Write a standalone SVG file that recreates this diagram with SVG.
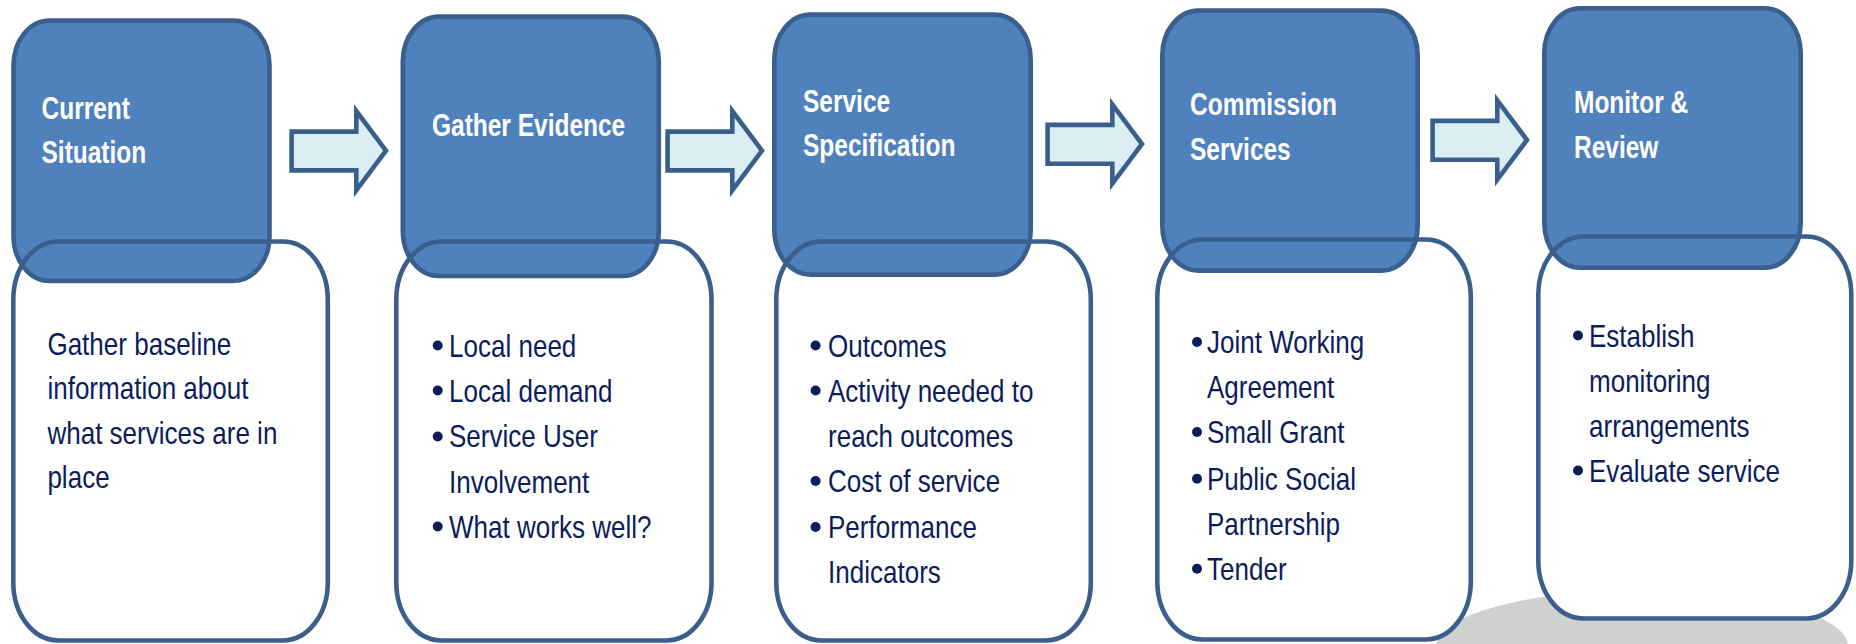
<svg xmlns="http://www.w3.org/2000/svg" xmlns:xlink="http://www.w3.org/1999/xlink" width="1856" height="644" viewBox="0 0 1856 644">
<style>
.card{fill:#ffffff;stroke:none}
.cardline{fill:none;stroke:#3B5F8D;stroke-width:4.6}
.head{fill:#4F81BD;stroke:#3B5F8D;stroke-width:4.6}
.title{font-family:"Liberation Sans",Arial,sans-serif;font-weight:bold;font-size:31px;fill:#ffffff}
.body{font-family:"Liberation Sans",Arial,sans-serif;font-size:31px;fill:#0C1D5C}
.dot{fill:#0C1D5C}
.arrow{fill:#DBEEF4;stroke:#3B5F8D;stroke-width:4.6;stroke-linejoin:miter}
</style>
<defs>
<path id="arr" d="M291.6,131.6 L356.3,131.6 L356.3,111 L386,150.7 L356.3,190.3 L356.3,170.4 L291.6,170.4 Z"/>
</defs>
<ellipse id="backdrop" cx="1642" cy="646" rx="206" ry="56" fill="#CFD1CF"/>

<g id="node1">
<rect class="card" x="13.3" y="241.5" width="314.5" height="399" rx="45" ry="58"/>
<rect class="head" x="13.5" y="20.5" width="256" height="260.5" rx="36" ry="45"/>
<rect class="cardline" x="13.3" y="241.5" width="314.5" height="399" rx="45" ry="58"/>
<g class="title" transform="translate(41.5,0) scale(0.79,1)"><text><tspan x="0" y="119">Current</tspan><tspan x="0" y="163">Situation</tspan></text></g>
<g class="body" transform="translate(47.4,0) scale(0.84,1)"><text><tspan x="0" y="355">Gather baseline</tspan><tspan x="0" y="399.5">information about</tspan><tspan x="0" y="444">what services are in</tspan><tspan x="0" y="488.5">place</tspan></text></g>
</g>

<g id="node2">
<rect class="card" x="396.3" y="241.5" width="315.2" height="399" rx="45" ry="58"/>
<rect class="head" x="402.8" y="16.6" width="256" height="259.4" rx="36" ry="45"/>
<rect class="cardline" x="396.3" y="241.5" width="315.2" height="399" rx="45" ry="58"/>
<g class="title" transform="translate(432,0) scale(0.79,1)"><text x="0" y="136">Gather Evidence</text></g>
<circle class="dot" cx="437.7" cy="345.5" r="5"/>
<circle class="dot" cx="437.7" cy="390.5" r="5"/>
<circle class="dot" cx="437.7" cy="436.5" r="5"/>
<circle class="dot" cx="437.7" cy="526.5" r="5"/>
<g class="body" transform="translate(449,0) scale(0.84,1)"><text><tspan x="0" y="356.7">Local need</tspan><tspan x="0" y="401.7">Local demand</tspan><tspan x="0" y="447.5">Service User</tspan><tspan x="0" y="492.7">Involvement</tspan><tspan x="0" y="538">What works well?</tspan></text></g>
</g>

<g id="node3">
<rect class="card" x="776.3" y="241.5" width="314.5" height="399" rx="45" ry="58"/>
<rect class="head" x="774.3" y="14.6" width="256.4" height="260" rx="36" ry="45"/>
<rect class="cardline" x="776.3" y="241.5" width="314.5" height="399" rx="45" ry="58"/>
<g class="title" transform="translate(803,0) scale(0.79,1)"><text><tspan x="0" y="112">Service</tspan><tspan x="0" y="156">Specification</tspan></text></g>
<circle class="dot" cx="815.6" cy="345.5" r="5"/>
<circle class="dot" cx="815.6" cy="390.5" r="5"/>
<circle class="dot" cx="815.6" cy="481" r="5"/>
<circle class="dot" cx="815.6" cy="527" r="5"/>
<g class="body" transform="translate(828,0) scale(0.84,1)"><text><tspan x="0" y="356.7">Outcomes</tspan><tspan x="0" y="401.7">Activity needed to</tspan><tspan x="0" y="446.7">reach outcomes</tspan><tspan x="0" y="492.3">Cost of service</tspan><tspan x="0" y="538.3">Performance</tspan><tspan x="0" y="583.3">Indicators</tspan></text></g>
</g>

<g id="node4">
<rect class="card" x="1157.3" y="239.5" width="313.5" height="400" rx="45" ry="58"/>
<rect class="head" x="1162.3" y="10.6" width="255.4" height="260" rx="36" ry="45"/>
<rect class="cardline" x="1157.3" y="239.5" width="313.5" height="400" rx="45" ry="58"/>
<g class="title" transform="translate(1190,0) scale(0.79,1)"><text><tspan x="0" y="115">Commission</tspan><tspan x="0" y="160">Services</tspan></text></g>
<circle class="dot" cx="1197" cy="342" r="5"/>
<circle class="dot" cx="1197" cy="432" r="5"/>
<circle class="dot" cx="1197" cy="478.7" r="5"/>
<circle class="dot" cx="1197" cy="568.7" r="5"/>
<g class="body" transform="translate(1207,0) scale(0.84,1)"><text><tspan x="0" y="353.3">Joint Working</tspan><tspan x="0" y="398.3">Agreement</tspan><tspan x="0" y="443.3">Small Grant</tspan><tspan x="0" y="490">Public Social</tspan><tspan x="0" y="535">Partnership</tspan><tspan x="0" y="580">Tender</tspan></text></g>
</g>

<g id="node5">
<rect class="card" x="1538.3" y="236.5" width="313" height="382" rx="45" ry="58"/>
<rect class="head" x="1544.3" y="8.3" width="256.4" height="259.4" rx="36" ry="45"/>
<rect class="cardline" x="1538.3" y="236.5" width="313" height="382" rx="45" ry="58"/>
<g class="title" transform="translate(1574,0) scale(0.79,1)"><text><tspan x="0" y="113">Monitor &amp;</tspan><tspan x="0" y="158">Review</tspan></text></g>
<circle class="dot" cx="1578" cy="335.5" r="5"/>
<circle class="dot" cx="1578" cy="470.5" r="5"/>
<g class="body" transform="translate(1589,0) scale(0.84,1)"><text><tspan x="0" y="346.7">Establish</tspan><tspan x="0" y="391.7">monitoring</tspan><tspan x="0" y="436.7">arrangements</tspan><tspan x="0" y="481.7">Evaluate service</tspan></text></g>
</g>

<g id="connectors">
<use xlink:href="#arr" href="#arr" class="arrow"/>
<use xlink:href="#arr" href="#arr" class="arrow" transform="translate(376,0)"/>
<use xlink:href="#arr" href="#arr" class="arrow" transform="translate(756,-6.7)"/>
<use xlink:href="#arr" href="#arr" class="arrow" transform="translate(1141,-10.7)"/>
</g>
</svg>
